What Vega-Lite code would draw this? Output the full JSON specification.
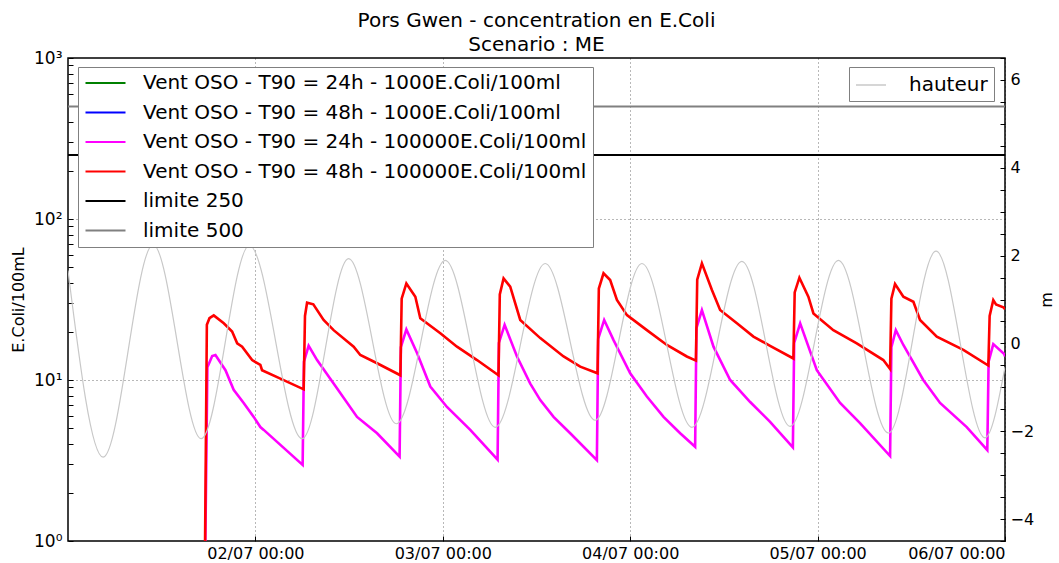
{
  "$schema": "https://vega.github.io/schema/vega-lite/v6.json",
  "width": 937,
  "height": 483,
  "autosize": {"type": "none"},
  "padding": {"left": 68, "top": 58, "right": 54, "bottom": 22},
  "background": "white",
  "title": {
    "text": ["Pors Gwen - concentration en E.Coli", "Scenario : ME"],
    "fontSize": 20, "fontWeight": "normal", "lineHeight": 24, "anchor": "middle",
    "offset": -6, "color": "black", "font": "DejaVu Sans"
  },
  "config": {
    "font": "DejaVu Sans",
    "view": {"stroke": "black", "strokeWidth": 1.5},
    "axis": {
      "labelFont": "DejaVu Sans", "labelFontSize": 16, "labelColor": "black",
      "titleFont": "DejaVu Sans", "titleFontSize": 16, "titleFontWeight": "normal", "titleColor": "black",
      "domain": false, "tickColor": "black", "tickSize": -5, "tickWidth": 1
    }
  },
  "datasets": {
    "conc": [
      {"t": "2013-07-01T17:28", "serie": "Vent OSO - T90 = 24h - 100000E.Coli/100ml", "v": 0.3},
      {"t": "2013-07-01T17:51", "serie": "Vent OSO - T90 = 24h - 100000E.Coli/100ml", "v": 12},
      {"t": "2013-07-01T18:28", "serie": "Vent OSO - T90 = 24h - 100000E.Coli/100ml", "v": 14.1},
      {"t": "2013-07-01T18:53", "serie": "Vent OSO - T90 = 24h - 100000E.Coli/100ml", "v": 14.3},
      {"t": "2013-07-01T20:10", "serie": "Vent OSO - T90 = 24h - 100000E.Coli/100ml", "v": 11.5},
      {"t": "2013-07-01T21:13", "serie": "Vent OSO - T90 = 24h - 100000E.Coli/100ml", "v": 8.7},
      {"t": "2013-07-01T22:30", "serie": "Vent OSO - T90 = 24h - 100000E.Coli/100ml", "v": 7.2},
      {"t": "2013-07-01T23:47", "serie": "Vent OSO - T90 = 24h - 100000E.Coli/100ml", "v": 5.9},
      {"t": "2013-07-02T00:38", "serie": "Vent OSO - T90 = 24h - 100000E.Coli/100ml", "v": 5.1},
      {"t": "2013-07-02T01:04", "serie": "Vent OSO - T90 = 24h - 100000E.Coli/100ml", "v": 4.9},
      {"t": "2013-07-02T06:03", "serie": "Vent OSO - T90 = 24h - 100000E.Coli/100ml", "v": 2.97},
      {"t": "2013-07-02T06:13", "serie": "Vent OSO - T90 = 24h - 100000E.Coli/100ml", "v": 13},
      {"t": "2013-07-02T06:49", "serie": "Vent OSO - T90 = 24h - 100000E.Coli/100ml", "v": 16.3},
      {"t": "2013-07-02T07:54", "serie": "Vent OSO - T90 = 24h - 100000E.Coli/100ml", "v": 13.3},
      {"t": "2013-07-02T10:01", "serie": "Vent OSO - T90 = 24h - 100000E.Coli/100ml", "v": 9.5},
      {"t": "2013-07-02T13:01", "serie": "Vent OSO - T90 = 24h - 100000E.Coli/100ml", "v": 5.9},
      {"t": "2013-07-02T15:35", "serie": "Vent OSO - T90 = 24h - 100000E.Coli/100ml", "v": 4.67},
      {"t": "2013-07-02T18:28", "serie": "Vent OSO - T90 = 24h - 100000E.Coli/100ml", "v": 3.34},
      {"t": "2013-07-02T18:38", "serie": "Vent OSO - T90 = 24h - 100000E.Coli/100ml", "v": 16},
      {"t": "2013-07-02T19:20", "serie": "Vent OSO - T90 = 24h - 100000E.Coli/100ml", "v": 20.6},
      {"t": "2013-07-02T20:42", "serie": "Vent OSO - T90 = 24h - 100000E.Coli/100ml", "v": 14.7},
      {"t": "2013-07-02T22:24", "serie": "Vent OSO - T90 = 24h - 100000E.Coli/100ml", "v": 9.1},
      {"t": "2013-07-03T00:32", "serie": "Vent OSO - T90 = 24h - 100000E.Coli/100ml", "v": 6.8},
      {"t": "2013-07-03T03:31", "serie": "Vent OSO - T90 = 24h - 100000E.Coli/100ml", "v": 4.9},
      {"t": "2013-07-03T07:01", "serie": "Vent OSO - T90 = 24h - 100000E.Coli/100ml", "v": 3.2},
      {"t": "2013-07-03T07:11", "serie": "Vent OSO - T90 = 24h - 100000E.Coli/100ml", "v": 17},
      {"t": "2013-07-03T07:55", "serie": "Vent OSO - T90 = 24h - 100000E.Coli/100ml", "v": 22},
      {"t": "2013-07-03T09:30", "serie": "Vent OSO - T90 = 24h - 100000E.Coli/100ml", "v": 14},
      {"t": "2013-07-03T11:12", "serie": "Vent OSO - T90 = 24h - 100000E.Coli/100ml", "v": 9.5},
      {"t": "2013-07-03T12:29", "serie": "Vent OSO - T90 = 24h - 100000E.Coli/100ml", "v": 7.5},
      {"t": "2013-07-03T14:11", "serie": "Vent OSO - T90 = 24h - 100000E.Coli/100ml", "v": 5.9},
      {"t": "2013-07-03T16:19", "serie": "Vent OSO - T90 = 24h - 100000E.Coli/100ml", "v": 4.67},
      {"t": "2013-07-03T19:44", "serie": "Vent OSO - T90 = 24h - 100000E.Coli/100ml", "v": 3.18},
      {"t": "2013-07-03T19:54", "serie": "Vent OSO - T90 = 24h - 100000E.Coli/100ml", "v": 18},
      {"t": "2013-07-03T20:40", "serie": "Vent OSO - T90 = 24h - 100000E.Coli/100ml", "v": 23.6},
      {"t": "2013-07-03T21:52", "serie": "Vent OSO - T90 = 24h - 100000E.Coli/100ml", "v": 17.7},
      {"t": "2013-07-04T00:00", "serie": "Vent OSO - T90 = 24h - 100000E.Coli/100ml", "v": 11},
      {"t": "2013-07-04T02:08", "serie": "Vent OSO - T90 = 24h - 100000E.Coli/100ml", "v": 7.9},
      {"t": "2013-07-04T04:16", "serie": "Vent OSO - T90 = 24h - 100000E.Coli/100ml", "v": 5.9},
      {"t": "2013-07-04T06:24", "serie": "Vent OSO - T90 = 24h - 100000E.Coli/100ml", "v": 4.67},
      {"t": "2013-07-04T08:19", "serie": "Vent OSO - T90 = 24h - 100000E.Coli/100ml", "v": 3.85},
      {"t": "2013-07-04T08:29", "serie": "Vent OSO - T90 = 24h - 100000E.Coli/100ml", "v": 21},
      {"t": "2013-07-04T09:11", "serie": "Vent OSO - T90 = 24h - 100000E.Coli/100ml", "v": 27.2},
      {"t": "2013-07-04T10:40", "serie": "Vent OSO - T90 = 24h - 100000E.Coli/100ml", "v": 16.1},
      {"t": "2013-07-04T12:48", "serie": "Vent OSO - T90 = 24h - 100000E.Coli/100ml", "v": 10},
      {"t": "2013-07-04T15:22", "serie": "Vent OSO - T90 = 24h - 100000E.Coli/100ml", "v": 7.3},
      {"t": "2013-07-04T17:55", "serie": "Vent OSO - T90 = 24h - 100000E.Coli/100ml", "v": 5.5},
      {"t": "2013-07-04T20:50", "serie": "Vent OSO - T90 = 24h - 100000E.Coli/100ml", "v": 3.82},
      {"t": "2013-07-04T21:00", "serie": "Vent OSO - T90 = 24h - 100000E.Coli/100ml", "v": 17},
      {"t": "2013-07-04T21:46", "serie": "Vent OSO - T90 = 24h - 100000E.Coli/100ml", "v": 22.5},
      {"t": "2013-07-04T23:54", "serie": "Vent OSO - T90 = 24h - 100000E.Coli/100ml", "v": 11.5},
      {"t": "2013-07-05T02:53", "serie": "Vent OSO - T90 = 24h - 100000E.Coli/100ml", "v": 7.2},
      {"t": "2013-07-05T05:26", "serie": "Vent OSO - T90 = 24h - 100000E.Coli/100ml", "v": 5.4},
      {"t": "2013-07-05T09:17", "serie": "Vent OSO - T90 = 24h - 100000E.Coli/100ml", "v": 3.37},
      {"t": "2013-07-05T09:27", "serie": "Vent OSO - T90 = 24h - 100000E.Coli/100ml", "v": 16},
      {"t": "2013-07-05T10:01", "serie": "Vent OSO - T90 = 24h - 100000E.Coli/100ml", "v": 20.4},
      {"t": "2013-07-05T10:59", "serie": "Vent OSO - T90 = 24h - 100000E.Coli/100ml", "v": 16.5},
      {"t": "2013-07-05T13:32", "serie": "Vent OSO - T90 = 24h - 100000E.Coli/100ml", "v": 10},
      {"t": "2013-07-05T15:41", "serie": "Vent OSO - T90 = 24h - 100000E.Coli/100ml", "v": 7.2},
      {"t": "2013-07-05T19:06", "serie": "Vent OSO - T90 = 24h - 100000E.Coli/100ml", "v": 5.1},
      {"t": "2013-07-05T21:44", "serie": "Vent OSO - T90 = 24h - 100000E.Coli/100ml", "v": 3.67},
      {"t": "2013-07-05T21:54", "serie": "Vent OSO - T90 = 24h - 100000E.Coli/100ml", "v": 13},
      {"t": "2013-07-05T22:30", "serie": "Vent OSO - T90 = 24h - 100000E.Coli/100ml", "v": 16.7},
      {"t": "2013-07-05T23:54", "serie": "Vent OSO - T90 = 24h - 100000E.Coli/100ml", "v": 14.5},
      {"t": "2013-07-06T00:00", "serie": "Vent OSO - T90 = 24h - 100000E.Coli/100ml", "v": 14},
      {"t": "2013-07-01T17:28", "serie": "Vent OSO - T90 = 48h - 100000E.Coli/100ml", "v": 0.3},
      {"t": "2013-07-01T17:47", "serie": "Vent OSO - T90 = 48h - 100000E.Coli/100ml", "v": 22},
      {"t": "2013-07-01T18:07", "serie": "Vent OSO - T90 = 48h - 100000E.Coli/100ml", "v": 24.2},
      {"t": "2013-07-01T18:40", "serie": "Vent OSO - T90 = 48h - 100000E.Coli/100ml", "v": 25.2},
      {"t": "2013-07-01T19:57", "serie": "Vent OSO - T90 = 48h - 100000E.Coli/100ml", "v": 22.5},
      {"t": "2013-07-01T21:01", "serie": "Vent OSO - T90 = 48h - 100000E.Coli/100ml", "v": 20},
      {"t": "2013-07-01T21:40", "serie": "Vent OSO - T90 = 48h - 100000E.Coli/100ml", "v": 16.9},
      {"t": "2013-07-01T22:18", "serie": "Vent OSO - T90 = 48h - 100000E.Coli/100ml", "v": 16.1},
      {"t": "2013-07-01T23:35", "serie": "Vent OSO - T90 = 48h - 100000E.Coli/100ml", "v": 13.3},
      {"t": "2013-07-02T00:38", "serie": "Vent OSO - T90 = 48h - 100000E.Coli/100ml", "v": 12.4},
      {"t": "2013-07-02T00:51", "serie": "Vent OSO - T90 = 48h - 100000E.Coli/100ml", "v": 11.5},
      {"t": "2013-07-02T03:12", "serie": "Vent OSO - T90 = 48h - 100000E.Coli/100ml", "v": 10.2},
      {"t": "2013-07-02T06:11", "serie": "Vent OSO - T90 = 48h - 100000E.Coli/100ml", "v": 8.75},
      {"t": "2013-07-02T06:21", "serie": "Vent OSO - T90 = 48h - 100000E.Coli/100ml", "v": 25},
      {"t": "2013-07-02T06:37", "serie": "Vent OSO - T90 = 48h - 100000E.Coli/100ml", "v": 30.2},
      {"t": "2013-07-02T07:25", "serie": "Vent OSO - T90 = 48h - 100000E.Coli/100ml", "v": 29.5},
      {"t": "2013-07-02T08:44", "serie": "Vent OSO - T90 = 48h - 100000E.Coli/100ml", "v": 23.6},
      {"t": "2013-07-02T10:01", "serie": "Vent OSO - T90 = 48h - 100000E.Coli/100ml", "v": 20.4},
      {"t": "2013-07-02T12:35", "serie": "Vent OSO - T90 = 48h - 100000E.Coli/100ml", "v": 16.1},
      {"t": "2013-07-02T13:26", "serie": "Vent OSO - T90 = 48h - 100000E.Coli/100ml", "v": 14.3},
      {"t": "2013-07-02T15:35", "serie": "Vent OSO - T90 = 48h - 100000E.Coli/100ml", "v": 12.7},
      {"t": "2013-07-02T18:34", "serie": "Vent OSO - T90 = 48h - 100000E.Coli/100ml", "v": 10.7},
      {"t": "2013-07-02T18:44", "serie": "Vent OSO - T90 = 48h - 100000E.Coli/100ml", "v": 32},
      {"t": "2013-07-02T19:20", "serie": "Vent OSO - T90 = 48h - 100000E.Coli/100ml", "v": 39.8},
      {"t": "2013-07-02T20:29", "serie": "Vent OSO - T90 = 48h - 100000E.Coli/100ml", "v": 32.9},
      {"t": "2013-07-02T21:07", "serie": "Vent OSO - T90 = 48h - 100000E.Coli/100ml", "v": 24.2},
      {"t": "2013-07-02T23:41", "serie": "Vent OSO - T90 = 48h - 100000E.Coli/100ml", "v": 19.5},
      {"t": "2013-07-03T01:49", "serie": "Vent OSO - T90 = 48h - 100000E.Coli/100ml", "v": 16.1},
      {"t": "2013-07-03T04:23", "serie": "Vent OSO - T90 = 48h - 100000E.Coli/100ml", "v": 13.3},
      {"t": "2013-07-03T07:08", "serie": "Vent OSO - T90 = 48h - 100000E.Coli/100ml", "v": 10.7},
      {"t": "2013-07-03T07:18", "serie": "Vent OSO - T90 = 48h - 100000E.Coli/100ml", "v": 34},
      {"t": "2013-07-03T07:47", "serie": "Vent OSO - T90 = 48h - 100000E.Coli/100ml", "v": 42.8},
      {"t": "2013-07-03T08:38", "serie": "Vent OSO - T90 = 48h - 100000E.Coli/100ml", "v": 38},
      {"t": "2013-07-03T09:55", "serie": "Vent OSO - T90 = 48h - 100000E.Coli/100ml", "v": 23.6},
      {"t": "2013-07-03T12:29", "serie": "Vent OSO - T90 = 48h - 100000E.Coli/100ml", "v": 18.2},
      {"t": "2013-07-03T15:28", "serie": "Vent OSO - T90 = 48h - 100000E.Coli/100ml", "v": 14},
      {"t": "2013-07-03T17:36", "serie": "Vent OSO - T90 = 48h - 100000E.Coli/100ml", "v": 12.1},
      {"t": "2013-07-03T19:49", "serie": "Vent OSO - T90 = 48h - 100000E.Coli/100ml", "v": 11.0},
      {"t": "2013-07-03T19:59", "serie": "Vent OSO - T90 = 48h - 100000E.Coli/100ml", "v": 37},
      {"t": "2013-07-03T20:35", "serie": "Vent OSO - T90 = 48h - 100000E.Coli/100ml", "v": 46},
      {"t": "2013-07-03T21:26", "serie": "Vent OSO - T90 = 48h - 100000E.Coli/100ml", "v": 41.8},
      {"t": "2013-07-03T22:18", "serie": "Vent OSO - T90 = 48h - 100000E.Coli/100ml", "v": 31.4},
      {"t": "2013-07-03T23:35", "serie": "Vent OSO - T90 = 48h - 100000E.Coli/100ml", "v": 25.3},
      {"t": "2013-07-04T02:08", "serie": "Vent OSO - T90 = 48h - 100000E.Coli/100ml", "v": 20.4},
      {"t": "2013-07-04T04:42", "serie": "Vent OSO - T90 = 48h - 100000E.Coli/100ml", "v": 16.5},
      {"t": "2013-07-04T07:15", "serie": "Vent OSO - T90 = 48h - 100000E.Coli/100ml", "v": 14},
      {"t": "2013-07-04T08:25", "serie": "Vent OSO - T90 = 48h - 100000E.Coli/100ml", "v": 13.2},
      {"t": "2013-07-04T08:35", "serie": "Vent OSO - T90 = 48h - 100000E.Coli/100ml", "v": 42},
      {"t": "2013-07-04T09:11", "serie": "Vent OSO - T90 = 48h - 100000E.Coli/100ml", "v": 53},
      {"t": "2013-07-04T10:28", "serie": "Vent OSO - T90 = 48h - 100000E.Coli/100ml", "v": 36.2},
      {"t": "2013-07-04T11:31", "serie": "Vent OSO - T90 = 48h - 100000E.Coli/100ml", "v": 27.2},
      {"t": "2013-07-04T13:40", "serie": "Vent OSO - T90 = 48h - 100000E.Coli/100ml", "v": 22.5},
      {"t": "2013-07-04T15:47", "serie": "Vent OSO - T90 = 48h - 100000E.Coli/100ml", "v": 18.6},
      {"t": "2013-07-04T17:55", "serie": "Vent OSO - T90 = 48h - 100000E.Coli/100ml", "v": 16.3},
      {"t": "2013-07-04T20:54", "serie": "Vent OSO - T90 = 48h - 100000E.Coli/100ml", "v": 13.6},
      {"t": "2013-07-04T21:04", "serie": "Vent OSO - T90 = 48h - 100000E.Coli/100ml", "v": 35},
      {"t": "2013-07-04T21:40", "serie": "Vent OSO - T90 = 48h - 100000E.Coli/100ml", "v": 43.2},
      {"t": "2013-07-04T22:49", "serie": "Vent OSO - T90 = 48h - 100000E.Coli/100ml", "v": 32.9},
      {"t": "2013-07-04T23:28", "serie": "Vent OSO - T90 = 48h - 100000E.Coli/100ml", "v": 25.9},
      {"t": "2013-07-05T02:01", "serie": "Vent OSO - T90 = 48h - 100000E.Coli/100ml", "v": 20.4},
      {"t": "2013-07-05T05:01", "serie": "Vent OSO - T90 = 48h - 100000E.Coli/100ml", "v": 16.9},
      {"t": "2013-07-05T08:25", "serie": "Vent OSO - T90 = 48h - 100000E.Coli/100ml", "v": 13.3},
      {"t": "2013-07-05T09:17", "serie": "Vent OSO - T90 = 48h - 100000E.Coli/100ml", "v": 11.7},
      {"t": "2013-07-05T09:27", "serie": "Vent OSO - T90 = 48h - 100000E.Coli/100ml", "v": 32},
      {"t": "2013-07-05T09:55", "serie": "Vent OSO - T90 = 48h - 100000E.Coli/100ml", "v": 39.5},
      {"t": "2013-07-05T10:59", "serie": "Vent OSO - T90 = 48h - 100000E.Coli/100ml", "v": 32.9},
      {"t": "2013-07-05T12:16", "serie": "Vent OSO - T90 = 48h - 100000E.Coli/100ml", "v": 30.6},
      {"t": "2013-07-05T13:07", "serie": "Vent OSO - T90 = 48h - 100000E.Coli/100ml", "v": 23.6},
      {"t": "2013-07-05T15:16", "serie": "Vent OSO - T90 = 48h - 100000E.Coli/100ml", "v": 18.6},
      {"t": "2013-07-05T18:40", "serie": "Vent OSO - T90 = 48h - 100000E.Coli/100ml", "v": 15.4},
      {"t": "2013-07-05T21:52", "serie": "Vent OSO - T90 = 48h - 100000E.Coli/100ml", "v": 12.3},
      {"t": "2013-07-05T22:02", "serie": "Vent OSO - T90 = 48h - 100000E.Coli/100ml", "v": 25},
      {"t": "2013-07-05T22:30", "serie": "Vent OSO - T90 = 48h - 100000E.Coli/100ml", "v": 31.4},
      {"t": "2013-07-05T22:51", "serie": "Vent OSO - T90 = 48h - 100000E.Coli/100ml", "v": 29.5},
      {"t": "2013-07-05T23:47", "serie": "Vent OSO - T90 = 48h - 100000E.Coli/100ml", "v": 28.3},
      {"t": "2013-07-06T00:00", "serie": "Vent OSO - T90 = 48h - 100000E.Coli/100ml", "v": 27.5}
    ],
    "limits": [
      {"serie": "limite 250", "v": 250},
      {"serie": "limite 500", "v": 500}
    ],
    "tide": [
      {"t": "2013-07-01T00:00", "h": 1.66},
      {"t": "2013-07-01T04:30", "h": -2.59},
      {"t": "2013-07-01T10:54", "h": 2.25},
      {"t": "2013-07-01T17:03", "h": -2.17},
      {"t": "2013-07-01T23:14", "h": 2.23},
      {"t": "2013-07-02T05:59", "h": -2.17},
      {"t": "2013-07-02T11:56", "h": 1.93},
      {"t": "2013-07-02T18:03", "h": -1.83},
      {"t": "2013-07-03T00:19", "h": 1.89},
      {"t": "2013-07-03T06:43", "h": -1.91},
      {"t": "2013-07-03T13:07", "h": 1.82},
      {"t": "2013-07-03T19:31", "h": -1.75},
      {"t": "2013-07-04T01:30", "h": 1.82},
      {"t": "2013-07-04T07:54", "h": -1.91},
      {"t": "2013-07-04T14:18", "h": 1.87},
      {"t": "2013-07-04T20:29", "h": -1.89},
      {"t": "2013-07-05T02:40", "h": 1.89},
      {"t": "2013-07-05T09:04", "h": -2.04},
      {"t": "2013-07-05T15:10", "h": 2.1},
      {"t": "2013-07-05T21:26", "h": -2.15},
      {"t": "2013-07-06T00:00", "h": -0.54}
    ]
  },
  "layer": [
    {
      "layer": [
        {
          "data": {"name": "conc"},
          "mark": {"type": "line", "strokeWidth": 2.6, "clip": true},
          "encoding": {
            "x": {
              "field": "t", "type": "temporal",
              "scale": {"domain": [{"year": 2013, "month": 7, "date": 1, "hours": 0}, {"year": 2013, "month": 7, "date": 6, "hours": 0}]},
              "axis": {
                "title": null, "format": "%d/%m %H:%M", "labelPadding": 9,
                "values": [
                  {"year": 2013, "month": 7, "date": 2, "hours": 0},
                  {"year": 2013, "month": 7, "date": 3, "hours": 0},
                  {"year": 2013, "month": 7, "date": 4, "hours": 0},
                  {"year": 2013, "month": 7, "date": 5, "hours": 0},
                  {"year": 2013, "month": 7, "date": 6, "hours": 0}
                ],
                "grid": true, "gridColor": "black", "gridDash": [1, 3], "gridOpacity": 0.7, "gridWidth": 0.8
              }
            },
            "y": {
              "field": "v", "type": "quantitative",
              "scale": {"type": "log", "domain": [1, 1000], "nice": false},
              "axis": {
                "orient": "left", "title": "E.Coli/100mL", "titleX": -50, "titleBaseline": "middle", "titleAngle": -90,
                "labelPadding": 11, "labelFontSize": 17,
                "values": [1, 2, 3, 4, 5, 6, 7, 8, 9, 10, 20, 30, 40, 50, 60, 70, 80, 90, 100, 200, 300, 400, 500, 600, 700, 800, 900, 1000],
                "labelExpr": "datum.value == 1 ? '10⁰' : datum.value == 10 ? '10¹' : datum.value == 100 ? '10²' : datum.value == 1000 ? '10³' : ''",
                "grid": true, "gridColor": "black", "gridDash": [1, 3], "gridWidth": 0.8,
                "gridOpacity": {"condition": {"test": "datum.value == 10 || datum.value == 100", "value": 0.7}, "value": 0}
              }
            },
            "color": {
              "field": "serie", "type": "nominal",
              "scale": {
                "domain": ["Vent OSO - T90 = 24h - 1000E.Coli/100ml", "Vent OSO - T90 = 48h - 1000E.Coli/100ml", "Vent OSO - T90 = 24h - 100000E.Coli/100ml", "Vent OSO - T90 = 48h - 100000E.Coli/100ml", "limite 250", "limite 500"],
                "range": ["#008000", "#0000ff", "#ff00ff", "#ff0000", "#000000", "#808080"]
              },
              "legend": {
                "orient": "none", "legendX": 10, "legendY": 9, "title": null,
                "symbolType": "stroke", "symbolSize": 1600, "symbolStrokeWidth": 2.2,
                "labelFont": "DejaVu Sans", "labelFontSize": 20, "labelColor": "black", "labelOffset": 16, "labelLimit": 700,
                "padding": 6, "rowPadding": 9.5, "fillColor": "white", "strokeColor": "#808080",
                "encode": {
                  "symbols": {"update": {"y": {"value": 10}}},
                  "labels": {"update": {"y": {"value": 10}}}
                }
              }
            }
          }
        },
        {
          "data": {"name": "limits"},
          "mark": {"type": "rule", "strokeWidth": 2},
          "encoding": {
            "y": {"field": "v", "type": "quantitative"},
            "color": {"field": "serie", "type": "nominal"}
          }
        }
      ]
    },
    {
      "data": {"name": "tide"},
      "mark": {"type": "line", "interpolate": "monotone", "strokeWidth": 1.2, "clip": true},
      "encoding": {
        "x": {"field": "t", "type": "temporal"},
        "y": {
          "field": "h", "type": "quantitative",
          "scale": {"domain": [-4.5, 6.5], "nice": false, "zero": false},
          "axis": {
            "orient": "right", "title": "m", "titleX": 41, "titleBaseline": "middle", "titleAngle": -90,
            "labelPadding": 10,
            "values": [-4.5, -4, -3.5, -3, -2.5, -2, -1.5, -1, -0.5, 0, 0.5, 1, 1.5, 2, 2.5, 3, 3.5, 4, 4.5, 5, 5.5, 6, 6.5],
            "labelExpr": "datum.value % 2 == 0 ? replace(format(datum.value, 'd'), '-', '−') : ''",
            "grid": false
          }
        },
        "stroke": {
          "datum": "hauteur", "type": "nominal",
          "scale": {"domain": ["hauteur"], "range": ["#c8c8c8"]},
          "legend": {
            "orient": "none", "legendX": 781, "legendY": 9, "title": null,
            "symbolType": "stroke", "symbolSize": 900, "symbolStrokeWidth": 1.5,
            "labelFont": "DejaVu Sans", "labelFontSize": 20, "labelColor": "black", "labelOffset": 22,
            "padding": 6, "fillColor": "white", "strokeColor": "#808080",
            "encode": {
              "symbols": {"update": {"y": {"value": 12}}},
              "labels": {"update": {"y": {"value": 12}}}
            }
          }
        }
      }
    }
  ],
  "resolve": {"scale": {"y": "independent"}}
}
